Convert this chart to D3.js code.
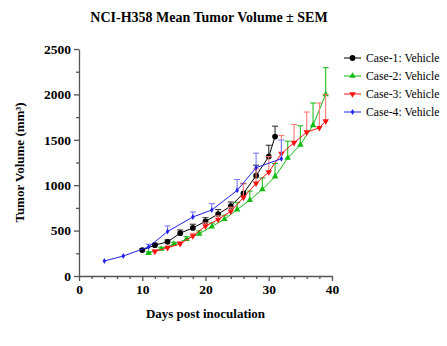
<!DOCTYPE html>
<html>
<head>
<meta charset="utf-8">
<script src="https://cdn.jsdelivr.net/npm/d3@7"></script>
<style>
  body { margin: 0; background: #fff; }
  svg { display: block; font-family: "Liberation Serif", "Times New Roman", serif; }
</style>
</head>
<body>
<svg id="chart" width="447" height="346"></svg>
<script>
/* ======================== DATA ========================= */
/* ======================================================= */

const seriesNames = ["Case-1: Vehicle", "Case-2: Vehicle", "Case-3: Vehicle", "Case-4: Vehicle"];

const case1Days = [10, 12, 14, 16, 18, 20, 22, 24, 26, 28, 30, 31];
const case1Mean = [286, 340, 376, 472, 530, 602, 682, 770, 910, 1105, 1315, 1535];
const case1Sem  = [12, 20, 22, 35, 40, 40, 50, 45, 110, 115, 125, 115];

const case2Days = [11, 13, 15, 17, 19, 21, 23, 25, 27, 29, 31, 33, 35, 37, 39];
const case2Mean = [252, 298, 350, 405, 465, 545, 625, 732, 835, 955, 1095, 1300, 1445, 1660, 2000];
const case2Sem  = [15, 18, 22, 28, 32, 38, 45, 78, 100, 125, 145, 185, 210, 245, 295];

const case3Days = [12, 14, 16, 18, 20, 22, 24, 26, 28, 30, 32, 34, 36, 38, 39];
const case3Mean = [270, 310, 355, 440, 550, 622, 712, 865, 1020, 1145, 1348, 1468, 1584, 1632, 1705];
const case3Sem  = [15, 20, 25, 30, 35, 40, 45, 150, 160, 170, 200, 200, 222, 273, 295];

const case4Days = [4, 7, 11, 14, 18, 21, 25, 28, 32];
const case4Mean = [165, 220, 320, 490, 650, 727, 943, 1193, 1292];
const case4Sem  = [0, 0, 30, 62, 55, 70, 120, 160, 205];

const xTicks = [0, 10, 20, 30, 40];
const yTicks = [0, 500, 1000, 1500, 2000, 2500];

/* ======================================================= */
/* ==================== END OF DATA ====================== */

const svg = d3.select("#chart");

const margin = { left: 79, top: 49 };
const viewWidth = 253;
const viewHeight = 227;
const serif = "'Liberation Serif', 'Times New Roman', serif";

const xScale = d3.scaleLinear().domain([0, 40]).range([0, viewWidth]);
const yScale = d3.scaleLinear().domain([0, 2500]).range([viewHeight, 0]);

function translate(x, y) {
    return "translate(" + x + "," + y + ")";
}

const series = [
    { name: seriesNames[0], days: case1Days, mean: case1Mean, sem: case1Sem,
      color: "#000000", barColor: "#333333", symbol: d3.symbolCircle, size: 26, rotate: 0 },
    { name: seriesNames[1], days: case2Days, mean: case2Mean, sem: case2Sem,
      color: "#11bb11", barColor: "#22c022", symbol: d3.symbolTriangle, size: 18, rotate: 0 },
    { name: seriesNames[2], days: case3Days, mean: case3Mean, sem: case3Sem,
      color: "#ff1010", barColor: "#ff7a7a", symbol: d3.symbolTriangle, size: 18, rotate: 180 },
    { name: seriesNames[3], days: case4Days, mean: case4Mean, sem: case4Sem,
      color: "#2020ee", barColor: "#7a7af5", symbol: d3.symbolDiamond, size: 10, rotate: 0 }
];

const plot = svg.append("g").attr("transform", translate(margin.left, margin.top));

drawAxes();
series.forEach(drawSeries);
drawLegend();
drawTitles();

/* =================== HELPER FUNCTIONS ================== */
/* ======================================================= */

function drawAxes() {
    let xAxis = plot.append("g")
                    .attr("transform", translate(0, viewHeight))
                    .call(d3.axisBottom(xScale).tickValues(xTicks).tickFormat(d3.format("d"))
                                               .tickSize(5).tickPadding(3).tickSizeOuter(0));
    let xMinor = plot.append("g")
                     .attr("transform", translate(0, viewHeight))
                     .call(d3.axisBottom(xScale).tickValues(d3.range(2, 40, 2).filter(d => d % 10 !== 0))
                                                .tickSize(3).tickFormat("").tickSizeOuter(0));
    let yAxis = plot.append("g")
                    .call(d3.axisLeft(yScale).tickValues(yTicks).tickFormat(d3.format("d"))
                                             .tickSize(5).tickPadding(3).tickSizeOuter(0));
    let yMinor = plot.append("g")
                     .call(d3.axisLeft(yScale).tickValues(d3.range(250, 2500, 500))
                                              .tickSize(3).tickFormat("").tickSizeOuter(0));

    [xAxis, xMinor, yAxis, yMinor].forEach(g => {
        g.attr("font-family", serif);
        g.selectAll("path, line").attr("stroke", "#555").attr("stroke-width", 1.3);
    });
    [xMinor, yMinor].forEach(g => g.select(".domain").remove());

    [xAxis, yAxis].forEach(g => {
        g.selectAll("text")
         .attr("fill", "#000")
         .style("font-size", "13.5px")
         .style("font-weight", "bold");
    });
}

function drawSeries(s) {
    let g = plot.append("g");
    let pts = s.days.map((d, i) => ({ day: d, mean: s.mean[i], sem: s.sem[i] }));

    // upward-only error bars with caps
    let bars = g.selectAll(".err").data(pts.filter(p => p.sem > 0)).enter();
    bars.append("line")
        .attr("x1", p => xScale(p.day)).attr("x2", p => xScale(p.day))
        .attr("y1", p => yScale(p.mean)).attr("y2", p => yScale(p.mean + p.sem))
        .attr("stroke", s.barColor).attr("stroke-width", 1.1);
    bars.append("line")
        .attr("x1", p => xScale(p.day) - 3).attr("x2", p => xScale(p.day) + 3)
        .attr("y1", p => yScale(p.mean + p.sem)).attr("y2", p => yScale(p.mean + p.sem))
        .attr("stroke", s.barColor).attr("stroke-width", 1.1);

    let line = d3.line().x(p => xScale(p.day)).y(p => yScale(p.mean));
    g.append("path")
     .datum(pts)
     .attr("d", line)
     .attr("fill", "none")
     .attr("stroke", s.color)
     .attr("stroke-width", 1);

    g.selectAll(".pt").data(pts).enter()
     .append("path")
     .attr("d", d3.symbol().type(s.symbol).size(s.size))
     .attr("transform", p => translate(xScale(p.day), yScale(p.mean)) + " rotate(" + s.rotate + ")")
     .attr("fill", s.color);
}

function drawLegend() {
    let legend = svg.append("g").attr("transform", translate(344, 58));
    series.forEach((s, i) => {
        let row = legend.append("g").attr("transform", translate(0, i * 18));
        row.append("line")
           .attr("x1", 0).attr("x2", 17)
           .attr("stroke", s.color).attr("stroke-width", 1);
        row.append("path")
           .attr("d", d3.symbol().type(s.symbol).size(s.size))
           .attr("transform", translate(8.5, 0) + " rotate(" + s.rotate + ")")
           .attr("fill", s.color);
        row.append("text")
           .attr("x", 22).attr("y", 4)
           .style("font-size", "11.7px")
           .text(s.name);
    });
}

function drawTitles() {
    svg.append("text")
       .attr("x", 209).attr("y", 22)
       .attr("text-anchor", "middle")
       .style("font-size", "14px").style("font-weight", "bold")
       .text("NCI-H358 Mean Tumor Volume \u00b1 SEM");

    svg.append("text")
       .attr("x", margin.left + viewWidth / 2).attr("y", 318)
       .attr("text-anchor", "middle")
       .style("font-size", "13px").style("font-weight", "bold")
       .text("Days post inoculation");

    svg.append("text")
       .attr("transform", translate(24, margin.top + viewHeight / 2) + " rotate(-90)")
       .attr("text-anchor", "middle")
       .style("font-size", "13px").style("font-weight", "bold")
       .text("Tumor Volume (mm\u00b3)");
}

/* ======================================================= */
/* =============== END OF HELPER FUNCTIONS =============== */
</script>
</body>
</html>
